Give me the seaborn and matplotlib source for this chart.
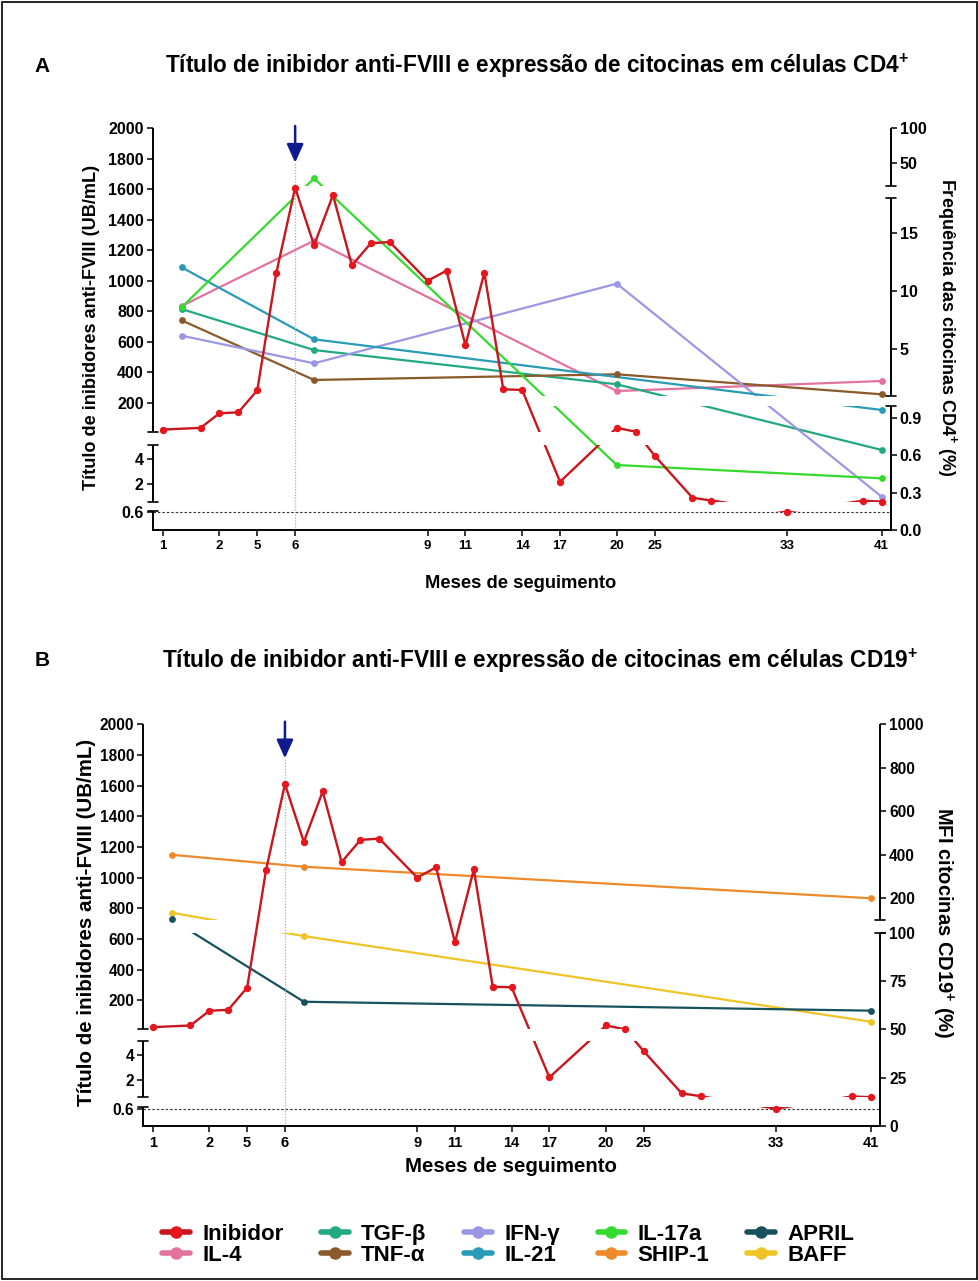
import numpy as np
import matplotlib
matplotlib.use('Agg')
import matplotlib.pyplot as plt
import seaborn as sns
from matplotlib.path import Path
from matplotlib.lines import Line2D
from matplotlib.patches import Rectangle

# ---------------- data ----------------
tick_positions = [0, 3, 5, 7, 14, 16, 19, 21, 24, 26, 33, 38]
tick_months = ['1', '2', '5', '6', '9', '11', '14', '17', '20', '25', '33', '41']

inhib_x = [0, 2, 3, 4, 5, 6, 7, 8, 9, 10, 11, 12, 14, 15, 16, 17, 18, 19,
           21, 24, 25, 26, 28, 29, 33, 37, 38]
inhib_y = [24, 35, 131, 137, 282, 1049, 1610, 1233, 1562, 1101, 1246, 1254,
           1000, 1066, 577, 1053, 288, 284, 2.2, 35, 10, 4.3, 0.92, 0.69,
           0.6, 0.67, 0.61]

cd4_x = [1, 8, 24, 38]
il4 = [8.70, 14.31, 1.40, 2.26]
tgfb = [8.44, 4.92, 1.98, 0.643]
tnfa = [7.47, 2.35, 2.84, 1.12]
ifng = [6.15, 3.78, 10.62, 0.267]
il17a = [8.59, 28.9, 0.522, 0.415]
il21_x = [1, 8, 38]
il21 = [12.02, 5.84, 0.964]

cd19_x = [1, 8, 38]
ship1 = [400, 345, 200]
april = [103, 64.3, 59.7]
baff = [133.6, 98.2, 54.0]

treatment_x = 7
detection_limit = 0.6

left_ticks = [0.6, 2, 4, 200, 400, 600, 800, 1000, 1200, 1400, 1600, 1800, 2000]
left_ticklabels = ['0.6', '2', '4', '200', '400', '600', '800', '1000', '1200',
                   '1400', '1600', '1800', '2000']
rightA_ticks = [0, 0.3, 0.6, 0.9, 5, 10, 15, 50, 100]
rightA_ticklabels = ['0.0', '0.3', '0.6', '0.9', '5', '10', '15', '50', '100']
rightB_ticks = [0, 25, 50, 75, 100, 200, 400, 600, 800, 1000]
rightB_ticklabels = ['0', '25', '50', '75', '100', '200', '400', '600', '800', '1000']

colors = {
    'Inibidor': '#C8161E', 'IL-4': '#E2739F', 'TGF-β': '#22A982',
    'TNF-α': '#8A5A2A', 'IFN-γ': '#9C97E4', 'IL-21': '#2A9BB6',
    'IL-17a': '#36DA2E', 'SHIP-1': '#EE8A2C', 'APRIL': '#17515E',
    'BAFF': '#EFC426',
}
marker_colors = dict(colors)
marker_colors['Inibidor'] = '#E5161C'

# ---------------- style ----------------
sns.set_theme(style='white')
plt.rcParams['font.family'] = ['Liberation Sans', 'DejaVu Sans']
plt.rcParams['font.weight'] = 'bold'
plt.rcParams['mathtext.fontset'] = 'custom'
plt.rcParams['mathtext.rm'] = 'Liberation Sans:bold'
plt.rcParams['mathtext.bf'] = 'Liberation Sans:bold'
plt.rcParams['mathtext.it'] = 'Liberation Sans:bold'
for k in ['text.color', 'axes.labelcolor', 'xtick.color', 'ytick.color', 'axes.edgecolor']:
    plt.rcParams[k] = 'black'

W, H = 979, 1281
fig = plt.figure(figsize=(W / 100, H / 100), dpi=100)
fig.patch.set_facecolor('white')


def broken(segments):
    xp, fp = [], []
    for (vlo, vhi, ulo, uhi) in segments:
        if xp and vlo <= xp[-1]:
            vlo = xp[-1] + 1e-7 * max(1.0, abs(xp[-1]))
        xp += [vlo, vhi]
        fp += [ulo, uhi]
    s0 = (fp[1] - fp[0]) / (xp[1] - xp[0])
    s1 = (fp[-1] - fp[-2]) / (xp[-1] - xp[-2])
    big = 1e7
    xp = np.array([xp[0] - big] + xp + [xp[-1] + big])
    fp = np.array([fp[0] - big * s0] + fp + [fp[-1] + big * s1])

    def fwd(v):
        return np.interp(np.asarray(v, dtype=float), xp, fp)

    def inv(u):
        return np.interp(np.asarray(u, dtype=float), fp, xp)
    return fwd, inv


def clip_path(spine_ext, umax):
    paths = []
    for i, (ulo, uhi) in enumerate(spine_ext):
        y0 = ulo / umax
        y1 = uhi / umax if i < len(spine_ext) - 1 else 1.05
        if i == 0:
            y0 = -0.02
        paths.append(Path([(-0.05, y0), (1.05, y0), (1.05, y1), (-0.05, y1), (-0.05, y0)],
                          [Path.MOVETO, Path.LINETO, Path.LINETO, Path.LINETO, Path.CLOSEPOLY]))
    return Path.make_compound_path(*paths)


def plot_series(axis, x, y, name, clip, lw=1.7, s=26, z=3):
    sns.lineplot(x=x, y=y, ax=axis, color=colors[name], lw=lw, estimator=None,
                 sort=False, legend=False, zorder=z)
    line = axis.lines[-1]
    line.set_clip_path(clip, axis.transAxes)
    sns.scatterplot(x=x, y=y, ax=axis, color=marker_colors[name], s=s, linewidth=0,
                    clip_on=False, zorder=z + 0.1, legend=False)


def panel(rect_px, x_first_px, step_px, umax, lsegs, lspine, lcaps, rsegs, rspine, rcaps,
          rticks, rticklabels, cyto, ytick_size, xtick_size, tip_u, top_u):
    x0, y0, x1, y1 = rect_px
    ax = fig.add_axes([x0 / W, 1 - y1 / H, (x1 - x0) / W, (y1 - y0) / H])
    ax2 = ax.twinx()
    fl, il = broken(lsegs)
    fr, ir = broken(rsegs)
    ax.set_yscale('function', functions=(fl, il))
    ax2.set_yscale('function', functions=(fr, ir))

    lclip = clip_path(lspine, umax)
    rclip = clip_path(rspine, umax)

    for name, xs, ys in cyto:
        plot_series(ax2, xs, ys, name, rclip, lw=1.6, s=24, z=3)
    plot_series(ax, inhib_x, inhib_y, 'Inibidor', lclip, lw=1.7, s=28, z=5)

    ax.set_ylim(0, lsegs[-1][1])
    ax2.set_ylim(0, rsegs[-1][1])
    ax.set_xlim((x0 - x_first_px) / step_px, (x1 - x_first_px) / step_px)

    for a in (ax, ax2):
        a.set_xlabel('')
        a.set_ylabel('')
        for sp in a.spines.values():
            sp.set_visible(False)
    ax.spines['bottom'].set_visible(True)
    ax.spines['bottom'].set_linewidth(1.4)
    ax.spines['bottom'].set_color('black')

    ax.set_xticks(tick_positions, tick_months)
    ax.tick_params(axis='x', bottom=True, direction='out', length=4.5, width=1.1,
                   labelsize=xtick_size, pad=2.5)
    ax.set_yticks(left_ticks, left_ticklabels)
    ax.tick_params(axis='y', left=True, right=False, direction='out', length=4.5,
                   width=1.1, labelsize=ytick_size, pad=2)
    ax2.set_yticks(rticks, rticklabels)
    ax2.tick_params(axis='y', right=True, left=False, direction='out', length=4.5,
                    width=1.1, labelsize=ytick_size, pad=2)
    ax.set_yticks([], minor=True)
    ax2.set_yticks([], minor=True)

    ax.set_zorder(ax2.get_zorder() + 1)
    ax.patch.set_visible(False)

    wpx = x1 - x0
    dx = 5.0 / wpx
    for (ulo, uhi) in lspine:
        ax.plot([0, 0], [ulo / umax, uhi / umax], transform=ax.transAxes, color='black',
                lw=1.4, clip_on=False, solid_capstyle='butt', zorder=6)
    for u in lcaps:
        ax.plot([-dx, dx], [u / umax, u / umax], transform=ax.transAxes, color='black',
                lw=1.2, clip_on=False, zorder=6)
    for (ulo, uhi) in rspine:
        ax.plot([1, 1], [ulo / umax, uhi / umax], transform=ax.transAxes, color='black',
                lw=1.4, clip_on=False, solid_capstyle='butt', zorder=6)
    for u in rcaps:
        ax.plot([1 - dx, 1 + dx], [u / umax, u / umax], transform=ax.transAxes,
                color='black', lw=1.2, clip_on=False, zorder=6)

    ax.axhline(detection_limit, color='#333333', lw=0.8, ls=(0, (2.2, 1.8)), zorder=2)
    ax.axvline(treatment_x, ymin=0, ymax=tip_u / umax, color='#A4ABC8', lw=0.9,
               ls=(0, (1, 1.3)), zorder=2)
    ax.annotate('', xy=(treatment_x, tip_u / umax), xytext=(treatment_x, top_u / umax),
                xycoords=('data', 'axes fraction'), textcoords=('data', 'axes fraction'),
                arrowprops=dict(arrowstyle='-|>,head_length=0.8,head_width=0.36',
                                color='#0E1A8E', lw=1.8, mutation_scale=14,
                                shrinkA=0, shrinkB=0),
                annotation_clip=False, zorder=7)
    return ax, ax2


# ---------------- panel A ----------------
rectA = (152.7, 128.3, 890.7, 530.0)
umaxA = 401.7
lsegA = [(0, 0.6, 0, 18.5), (0.6, 5.15, 28.3, 85.0), (10, 2000, 98.3, 401.7)]
lspineA = [(0, 19.3), (28.3, 85.0), (98.3, 401.7)]
lcapsA = [19.3, 28.3, 85.0, 98.3]
rsegA = [(0, 1, 0, 124.5), (1, 18, 134.3, 332.3), (18, 100, 344.0, 401.7)]
rspineA = [(0, 124.5), (134.3, 332.3), (344.0, 401.7)]
rcapsA = [124.5, 134.3, 332.3, 344.0]
cytoA = [('IL-4', cd4_x, il4), ('TGF-β', cd4_x, tgfb), ('TNF-α', cd4_x, tnfa),
         ('IFN-γ', cd4_x, ifng), ('IL-21', il21_x, il21), ('IL-17a', cd4_x, il17a)]
panel(rectA, 162.7, 18.92, umaxA, lsegA, lspineA, lcapsA, rsegA, rspineA, rcapsA,
      rightA_ticks, rightA_ticklabels, cytoA, 11.5, 9.5, 367.3, 404)

# ---------------- panel B ----------------
rectB = (143.3, 724.3, 880.0, 1126.3)
umaxB = 402.0
lsegB = [(0, 0.6, 0, 17.6), (0.6, 5.15, 29.0, 85.6), (10, 2000, 97.0, 402.0)]
lspineB = [(0, 19.0), (29.0, 85.6), (97.0, 402.0)]
lcapsB = [19.0, 29.0, 85.6, 97.0]
rsegB = [(0, 100, 0, 193.7), (100, 1000, 206.3, 402.0)]
rspineB = [(0, 193.7), (206.3, 402.0)]
rcapsB = [193.7, 206.3]
cytoB = [('SHIP-1', cd19_x, ship1), ('BAFF', cd19_x, baff), ('APRIL', cd19_x, april)]
panel(rectB, 152.7, 18.89, umaxB, lsegB, lspineB, lcapsB, rsegB, rspineB, rcapsB,
      rightB_ticks, rightB_ticklabels, cytoB, 11.2, 10.5, 368.0, 404.6)

# ---------------- texts ----------------
renderer = fig.canvas.get_renderer()


def ftext(xp, yp, s, target, vertical=False, rot=0, size=12):
    t = fig.text(xp / W, 1 - yp / H, s, ha='center', va='center', rotation=rot,
                 fontsize=size, fontweight='bold')
    bb = t.get_window_extent(renderer)
    cur = bb.height if vertical else bb.width
    t.set_fontsize(size * target / cur)
    return t


fig.text(42 / W, 1 - 66 / H, 'A', ha='center', va='center', fontsize=15, fontweight='bold')
fig.text(42 / W, 1 - 661 / H, 'B', ha='center', va='center', fontsize=15, fontweight='bold')
ftext(537, 66, r'Título de inibidor anti-FVIII e expressão de citocinas em células CD4$^{\mathbf{+}}$', 745)
ftext(540, 661, r'Título de inibidor anti-FVIII e expressão de citocinas em células CD19$^{\mathbf{+}}$', 755)
ftext(92, 327, 'Título de inibidores anti-FVIII (UB/mL)', 322, vertical=True, rot=90)
ftext(947, 327, r'Frequência das citocinas CD4$^{\mathbf{+}}$ (%)', 298, vertical=True, rot=-90)
ftext(521, 583, 'Meses de seguimento', 190)
ftext(87, 922, 'Título de inibidores anti-FVIII (UB/mL)', 366, vertical=True, rot=90)
ftext(943, 923, r'MFI citocinas CD19$^{\mathbf{+}}$ (%)', 232, vertical=True, rot=-90)
ftext(511, 1166, 'Meses de seguimento', 211)

# ---------------- legend ----------------
legend_names = ['Inibidor', 'IL-4', 'TGF-β', 'TNF-α', 'IFN-γ', 'IL-21', 'IL-17a',
                'SHIP-1', 'APRIL', 'BAFF']
handles = [Line2D([], [], color=colors[n], lw=4, marker='o', ms=8,
                  mfc=marker_colors[n], mec=marker_colors[n]) for n in legend_names]
fig.legend(handles, legend_names, ncol=5, loc='center',
           bbox_to_anchor=(508 / W, 1 - 1245 / H), frameon=False,
           handlelength=1.25, columnspacing=1.7, handletextpad=0.55, labelspacing=0.0,
           prop={'weight': 'bold', 'size': 16})

# border
fig.patches.append(Rectangle((2 / W, 2 / H), (W - 4) / W, (H - 4) / H,
                             transform=fig.transFigure, fill=False, ec='black', lw=1.2))

fig.savefig('out.png', dpi=100, facecolor='white')
